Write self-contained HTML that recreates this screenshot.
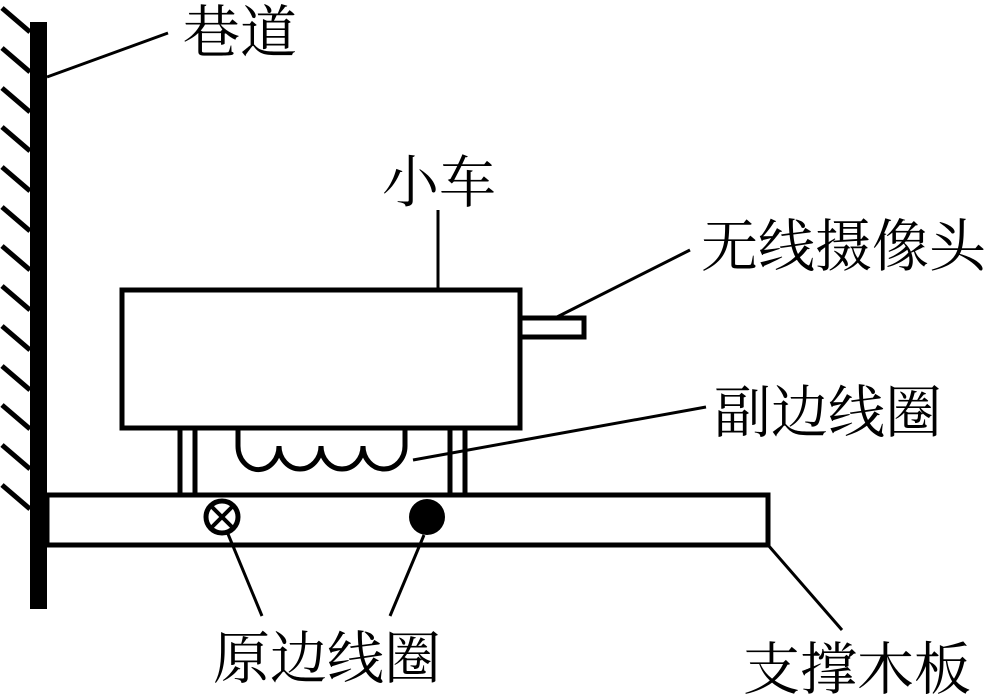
<!DOCTYPE html>
<html><head><meta charset="utf-8"><style>
body{margin:0;background:#fff}
svg{display:block}
text{font-family:"Liberation Serif","Noto Serif CJK SC",serif;font-size:57px;fill:#000}
</style></head><body>
<svg width="994" height="697" viewBox="0 0 994 697" xmlns="http://www.w3.org/2000/svg">
<g stroke="#000" fill="none">
<rect x="30" y="22" width="17" height="587" fill="#000" stroke="none"/>
<g stroke-width="5">
<line x1="2" y1="8" x2="30" y2="32"/><line x1="2" y1="48" x2="30" y2="72"/><line x1="2" y1="88" x2="30" y2="112"/>
<line x1="2" y1="127" x2="30" y2="151"/><line x1="2" y1="167" x2="30" y2="191"/><line x1="2" y1="207" x2="30" y2="231"/>
<line x1="2" y1="246" x2="30" y2="270"/><line x1="2" y1="286" x2="30" y2="310"/><line x1="2" y1="326" x2="30" y2="350"/>
<line x1="2" y1="366" x2="30" y2="390"/><line x1="2" y1="405" x2="30" y2="429"/><line x1="2" y1="445" x2="30" y2="469"/>
<line x1="2" y1="485" x2="30" y2="509"/>
</g>
<line x1="47" y1="77" x2="168" y2="33" stroke-width="3"/>
<rect x="47" y="495" width="721" height="50" stroke-width="5"/>
<rect x="122" y="290" width="398" height="138" stroke-width="5"/>
<rect x="520" y="318" width="64" height="19" stroke-width="5"/>
<line x1="438" y1="210" x2="438" y2="290" stroke-width="3"/>
<line x1="555" y1="318" x2="690" y2="250" stroke-width="3"/>
<g stroke-width="5">
<line x1="180" y1="428" x2="180" y2="495"/><line x1="195" y1="428" x2="195" y2="495"/>
<line x1="450" y1="428" x2="450" y2="495"/><line x1="465" y1="428" x2="465" y2="495"/>
<path d="M238 430 V446 A20 23 0 0 0 279 446 A21 23 0 0 0 321 446 A21 23 0 0 0 363 446 A21 23 0 0 0 405 446 V430"/>
<circle cx="222" cy="517" r="16"/>
<line x1="212" y1="507" x2="232" y2="527" stroke-width="4"/><line x1="232" y1="507" x2="212" y2="527" stroke-width="4"/>
</g>
<circle cx="427" cy="517" r="18" fill="#000" stroke="none"/>
<line x1="413" y1="460" x2="706" y2="407" stroke-width="3"/>
<line x1="228" y1="534" x2="262" y2="616" stroke-width="3"/>
<line x1="424" y1="535" x2="390" y2="616" stroke-width="3"/>
<line x1="768" y1="545" x2="842" y2="630" stroke-width="3"/>
</g>
<text x="183" y="52">巷道</text>
<text x="382" y="202">小车</text>
<text x="701" y="266">无线摄像头</text>
<text x="714" y="432">副边线圈</text>
<text x="213" y="678">原边线圈</text>
<text x="743" y="689">支撑木板</text>
</svg>
</body></html>
